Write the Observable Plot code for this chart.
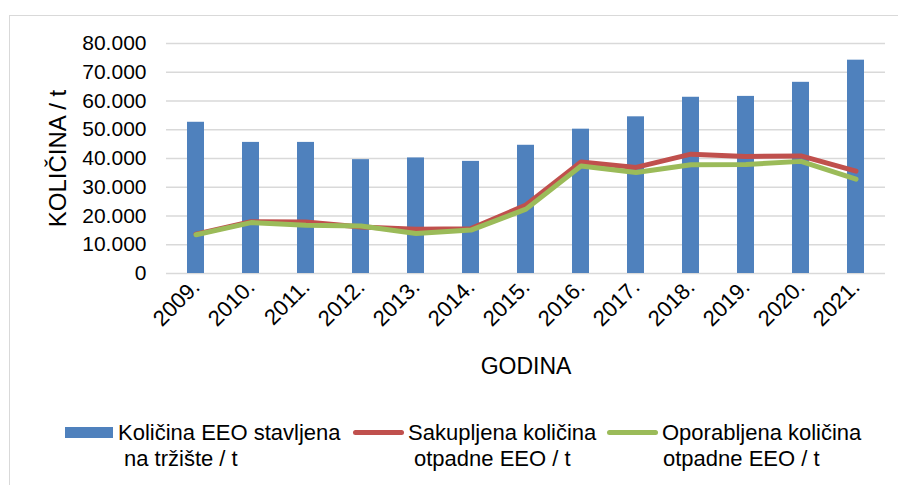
<!DOCTYPE html>
<html>
<head>
<meta charset="utf-8">
<script src="https://cdn.jsdelivr.net/npm/d3@7"></script>
<script src="https://cdn.jsdelivr.net/npm/@observablehq/plot@0.6"></script>
<style>
  body { margin: 0; background: #fff; font-family: "Liberation Sans", Arial, sans-serif; }
  #wrap { position: relative; width: 898px; height: 485px; overflow: hidden; background: #fff; }
  #border { position: absolute; left: 9px; top: 15px; width: 920px; height: 500px; border: 1px solid #d9d9d9; box-sizing: border-box; }
  #chart { position: absolute; left: 0; top: 0; }
  #chart g[aria-label="x-axis label"] { font-size: 23px; }
  #chart g[aria-label="y-axis label"] { font-size: 24px; }
  #chart g[aria-label="x-axis tick label"] { font-size: 22px; }
  .leg { position: absolute; top: 420px; font-size: 22px; line-height: 26px; color: #000; white-space: nowrap; }
  .sw { position: absolute; }
</style>
</head>
<body>
<div id="wrap">
  <div id="border"></div>
  <div id="chart"></div>
  <div id="legend"></div>
</div>
<script>
const years = ["2009.","2010.","2011.","2012.","2013.","2014.","2015.","2016.","2017.","2018.","2019.","2020.","2021."];
const placedOnMarket = [52600, 45600, 45600, 39600, 40200, 39000, 44600, 50200, 54500, 61300, 61600, 66500, 74200];
const collectedWaste = [13700, 18000, 17900, 16200, 15400, 15600, 23800, 38800, 36900, 41500, 40700, 40900, 35600];
const recoveredWaste = [13500, 17700, 16800, 16500, 13900, 15100, 22400, 37400, 35100, 37800, 37900, 39000, 32800];
const yTicks = [0, 10000, 20000, 30000, 40000, 50000, 60000, 70000, 80000];
const seriesNames = ["Količina EEO stavljena\nna tržište / t", "Sakupljena količina\notpadne EEO / t", "Oporabljena količina\notpadne EEO / t"];
const seriesColors = ["#4f81bd", "#c0504d", "#9bbb59"];

const bars = years.map((y, i) => ({year: y, value: placedOnMarket[i]}));
const red = years.map((y, i) => ({year: y, value: collectedWaste[i]}));
const green = years.map((y, i) => ({year: y, value: recoveredWaste[i]}));

const fmt = d => d === 0 ? "0" : d3.format(",")(d).replace(/,/g, ".");

const chart = Plot.plot({
  width: 898,
  height: 400,
  marginLeft: 166,
  marginRight: 13,
  marginTop: 43,
  marginBottom: 127,
  style: {fontFamily: "'Liberation Sans', Arial, sans-serif", fontSize: "21px", color: "#000", background: "transparent", overflow: "visible"},
  x: {domain: years, paddingInner: 0.69, paddingOuter: 0.345, tickSize: 0, tickPadding: 10, tickRotate: -45, label: "GODINA", labelAnchor: "center", labelOffset: 100, labelArrow: false},
  y: {domain: [0, 80000], ticks: yTicks, tickFormat: fmt, tickSize: 0, tickPadding: 20, label: "KOLIČINA / t", labelAnchor: "center", labelOffset: 118, labelArrow: false},
  marks: [
    Plot.ruleY(yTicks, {stroke: "#d9d9d9", strokeWidth: 1.5}),
    Plot.barY(bars, {x: "year", y: "value", fill: seriesColors[0]}),
    Plot.line(red, {x: "year", y: "value", stroke: seriesColors[1], strokeWidth: 5, strokeLinejoin: "round", strokeLinecap: "round"}),
    Plot.line(green, {x: "year", y: "value", stroke: seriesColors[2], strokeWidth: 5, strokeLinejoin: "round", strokeLinecap: "round"})
  ]
});
document.getElementById("chart").appendChild(chart);

// legend
const legend = document.getElementById("legend");
const legPos = [
  {sw: [65, 48], text: 118, indent: 6, kind: "rect"},
  {sw: [353, 51], text: 408, indent: 6, kind: "line"},
  {sw: [607, 51], text: 662, indent: 1, kind: "line"}
];
seriesNames.forEach((name, i) => {
  const p = legPos[i];
  const sw = document.createElement("div");
  sw.className = "sw";
  sw.style.left = p.sw[0] + "px";
  sw.style.width = p.sw[1] + "px";
  sw.style.background = seriesColors[i];
  if (p.kind === "rect") { sw.style.top = "427px"; sw.style.height = "11px"; }
  else { sw.style.top = "430px"; sw.style.height = "5px"; sw.style.borderRadius = "3px"; }
  legend.appendChild(sw);
  const t = document.createElement("div");
  t.className = "leg";
  t.style.left = p.text + "px";
  const [l1, l2] = name.split("\n");
  t.innerHTML = `<div>${l1}</div><div style="margin-left:${p.indent}px">${l2}</div>`;
  legend.appendChild(t);
});
</script>
</body>
</html>
